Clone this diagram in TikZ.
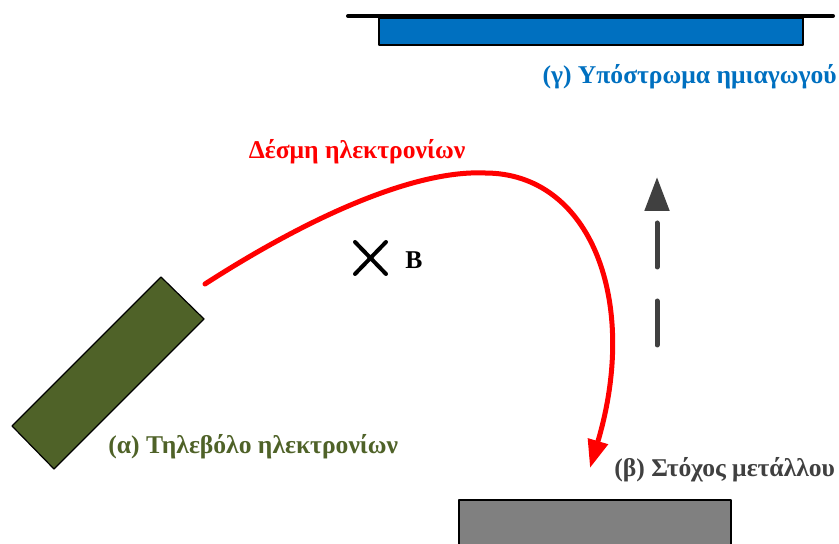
\documentclass[tikz,border=0pt]{standalone}
\usepackage{fontspec}
\setmainfont{Liberation Serif}
\usetikzlibrary{arrows.meta}
\definecolor{substrateblue}{RGB}{0,112,192}
\definecolor{gunolive}{RGB}{79,98,40}
\definecolor{targetgray}{RGB}{128,128,128}
\definecolor{darkgray}{RGB}{64,64,64}
\tikzset{
  lbl/.style={font=\fontsize{12.8}{14}\selectfont\bfseries, inner sep=0pt},
}

\begin{document}
\begin{tikzpicture}[x=0.5pt, y=-0.5pt, line join=round]
\useasboundingbox (0,0) rectangle (839,544);
% --- Substrate (gamma) ---
\draw[line width=2pt, line cap=round] (348,16) -- (833,16);
\draw[fill=substrateblue, line width=0.6pt] (379,18) rectangle (803,45);
\node[lbl, text=substrateblue, anchor=east] (sublbl) at (837,77) {(γ) Υπόστρωμα ημιαγωγού};
% --- Electron gun (alpha) ---
\draw[fill=gunolive, line width=0.6pt] (161,277) -- (204,319) -- (54,469) -- (12,426) -- cycle;
\node[lbl, text=gunolive, anchor=west] (gunlbl) at (108,447) {(α) Τηλεβόλο ηλεκτρονίων};
% --- Metal target (beta) ---
\draw[fill=targetgray, line width=0.6pt] (459,500) rectangle (731,550);
\node[lbl, text=darkgray, anchor=west] (tgtlbl) at (614,470) {(β) Στόχος μετάλλου};
% --- Electron beam ---
\coordinate (beamstart) at (205,284);
\coordinate (beamtop) at (485,173);
\coordinate (beamend) at (590,468);
\draw[red, line width=2.5pt, line cap=round, -{Triangle[length=14pt, width=10pt]}]
  (beamstart) .. controls (320,210) and (420,170) .. (beamtop)
  .. controls (590,173) and (640,300) .. (beamend);
\node[lbl, text=red] (beamlbl) at (357,152) {Δέσμη ηλεκτρονίων};
% --- Magnetic field into page ---
\draw[line width=2pt, line cap=round] (355,242) -- (386,274) (386,242) -- (355,274);
\node[lbl] (Blbl) at (414,260) {B};
% --- Direction arrow ---
\coordinate (dirstart) at (657,345);
\coordinate (dirend) at (657,177);
\draw[darkgray, line width=2.5pt, line cap=round, dash pattern=on 22pt off 17pt,
  -{Triangle[length=17pt, width=12pt]}] (dirstart) -- (dirend);
\end{tikzpicture}
\end{document}
